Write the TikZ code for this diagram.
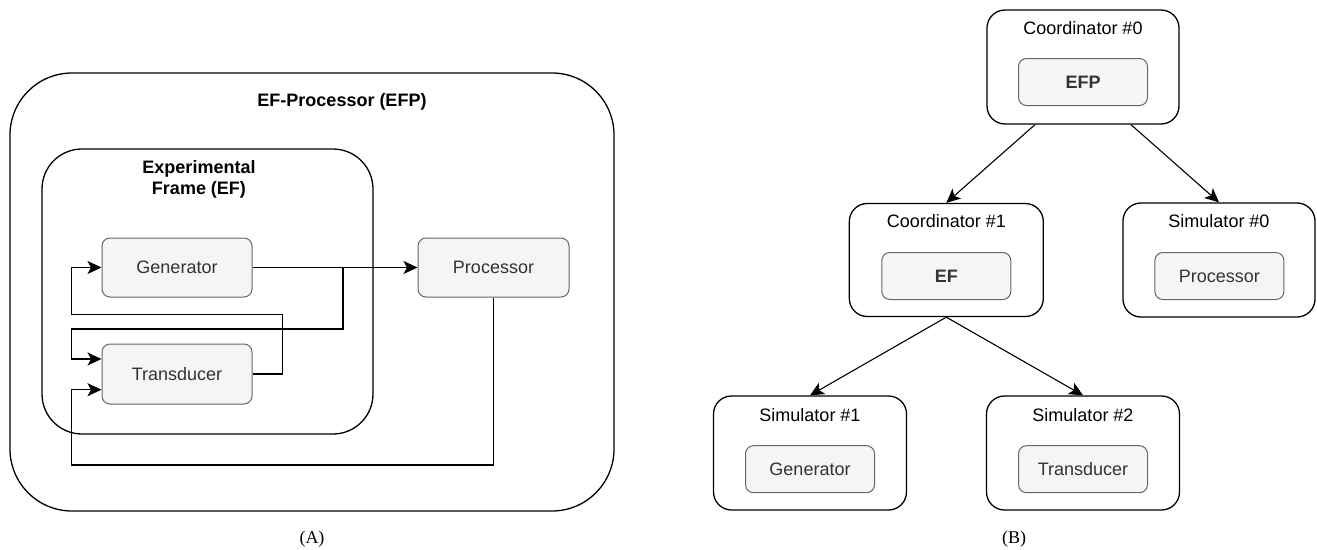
\documentclass[tikz,border=0pt]{standalone}
\usepackage{fontspec}
\setmainfont{Liberation Sans}
\newfontfamily\capfont{Liberation Serif}
\usetikzlibrary{arrows.meta}

\definecolor{unitfill}{HTML}{F5F5F5}
\definecolor{unitline}{HTML}{666666}
\definecolor{unittext}{HTML}{333333}

\newcommand{\bigtext}{\fontsize{18}{21}\selectfont}

\tikzset{
  frame/.style={draw=black, line width=1.3pt, inner sep=0pt},
  unit/.style={draw=unitline, fill=unitfill, line width=1pt, rounded corners=8pt,
    text=unittext, font=\bigtext, inner sep=0pt,
    minimum width=#1, minimum height=59pt},
  unit/.default=150pt,
  heading/.style={font=\bigtext\bfseries, text=black, inner sep=0pt, align=center},
  title/.style={font=\bigtext, text=black, inner sep=0pt},
  wire/.style={draw=black, line width=1.3pt},
  arr/.style={wire, -{Stealth[length=14pt,width=13pt,inset=3.5pt]}},
  tree/.style={draw=black, line width=1.1pt, -{Stealth[length=14pt,width=13pt,inset=3.5pt]}},
  simbox/.style={frame, rounded corners=18pt, minimum width=193pt, minimum height=114pt},
  caption/.style={font=\capfont\bigtext, inner sep=0pt}
}

\begin{document}
\begin{tikzpicture}[x=1pt,y=-1pt]
  \useasboundingbox (0,0) rectangle (1317,549);

  % ---------------- (A) structure of the EF-Processor ----------------
  \node[frame, rounded corners=62pt, minimum width=604pt, minimum height=438pt]
    (efp) at (312,292) {};
  \node[heading] (efptitle) at (342,102) {EF-Processor (EFP)};

  \node[frame, rounded corners=40pt, minimum width=331pt, minimum height=285pt]
    (ef) at (207.5,291.5) {};
  \node[heading] (eftitle) at (199,179.5) {Experimental\\Frame (EF)};

  \node[unit] (gen) at (177,267.5) {Generator};
  \node[unit, minimum height=60pt] (trans) at (177,374) {Transducer};
  \node[unit=151pt] (proc) at (493.5,267.5) {Processor};

  % branch point on the generator output
  \coordinate (split) at (343,267.5);

  \draw[arr] (gen.east) -- (proc.west);
  \draw[arr] (split) -- (343,329) -- (71.7,329) -- (71.7,359)
    -- ([yshift=15pt]trans.west);
  \draw[arr] (trans.east) -- (282.3,374) -- (282.3,314.3) -- (71.7,314.3)
    -- (71.7,267.5) -- (gen.west);
  \draw[arr] (proc.south) -- (493.5,465) -- (71.7,465) -- (71.7,389.7)
    -- ([yshift=-15.7pt]trans.west);

  \node[caption] (capA) at (312,539.5) {(A)};

  % ---------------- (B) simulator hierarchy ----------------
  \node[simbox, minimum width=192pt] (c0) at (1083,67) {};
  \node[title] at (1083,28) {Coordinator \#0};
  \node[unit=129pt, minimum height=47pt, font=\bigtext\bfseries] (c0in) at (1083,82) {EFP};

  \node[simbox, minimum width=194pt, minimum height=113pt] (c1) at (946.3,260) {};
  \node[title] at (946.3,221.5) {Coordinator \#1};
  \node[unit=129pt, minimum height=47pt, font=\bigtext\bfseries] (c1in) at (946.3,276) {EF};

  \node[simbox, minimum width=192pt] (s0) at (1219,260) {};
  \node[title] at (1219,221.5) {Simulator \#0};
  \node[unit=129pt, minimum height=47pt] (s0in) at (1219.4,276) {Processor};

  \node[simbox] (s1) at (810,453) {};
  \node[title] at (810,415) {Simulator \#1};
  \node[unit=129pt, minimum height=47pt] (s1in) at (810,469.2) {Generator};

  \node[simbox] (s2) at (1083,453) {};
  \node[title] at (1083,415) {Simulator \#2};
  \node[unit=129pt, minimum height=47pt] (s2in) at (1083,469.2) {Transducer};

  \draw[tree] ([xshift=-48pt]c0.south) -- (c1.north);
  \draw[tree] ([xshift=48pt]c0.south) -- (s0.north);
  \draw[tree] (c1.south) -- (s1.north);
  \draw[tree] (c1.south) -- (s2.north);

  \node[caption] (capB) at (1014,539.5) {(B)};
\end{tikzpicture}
\end{document}
